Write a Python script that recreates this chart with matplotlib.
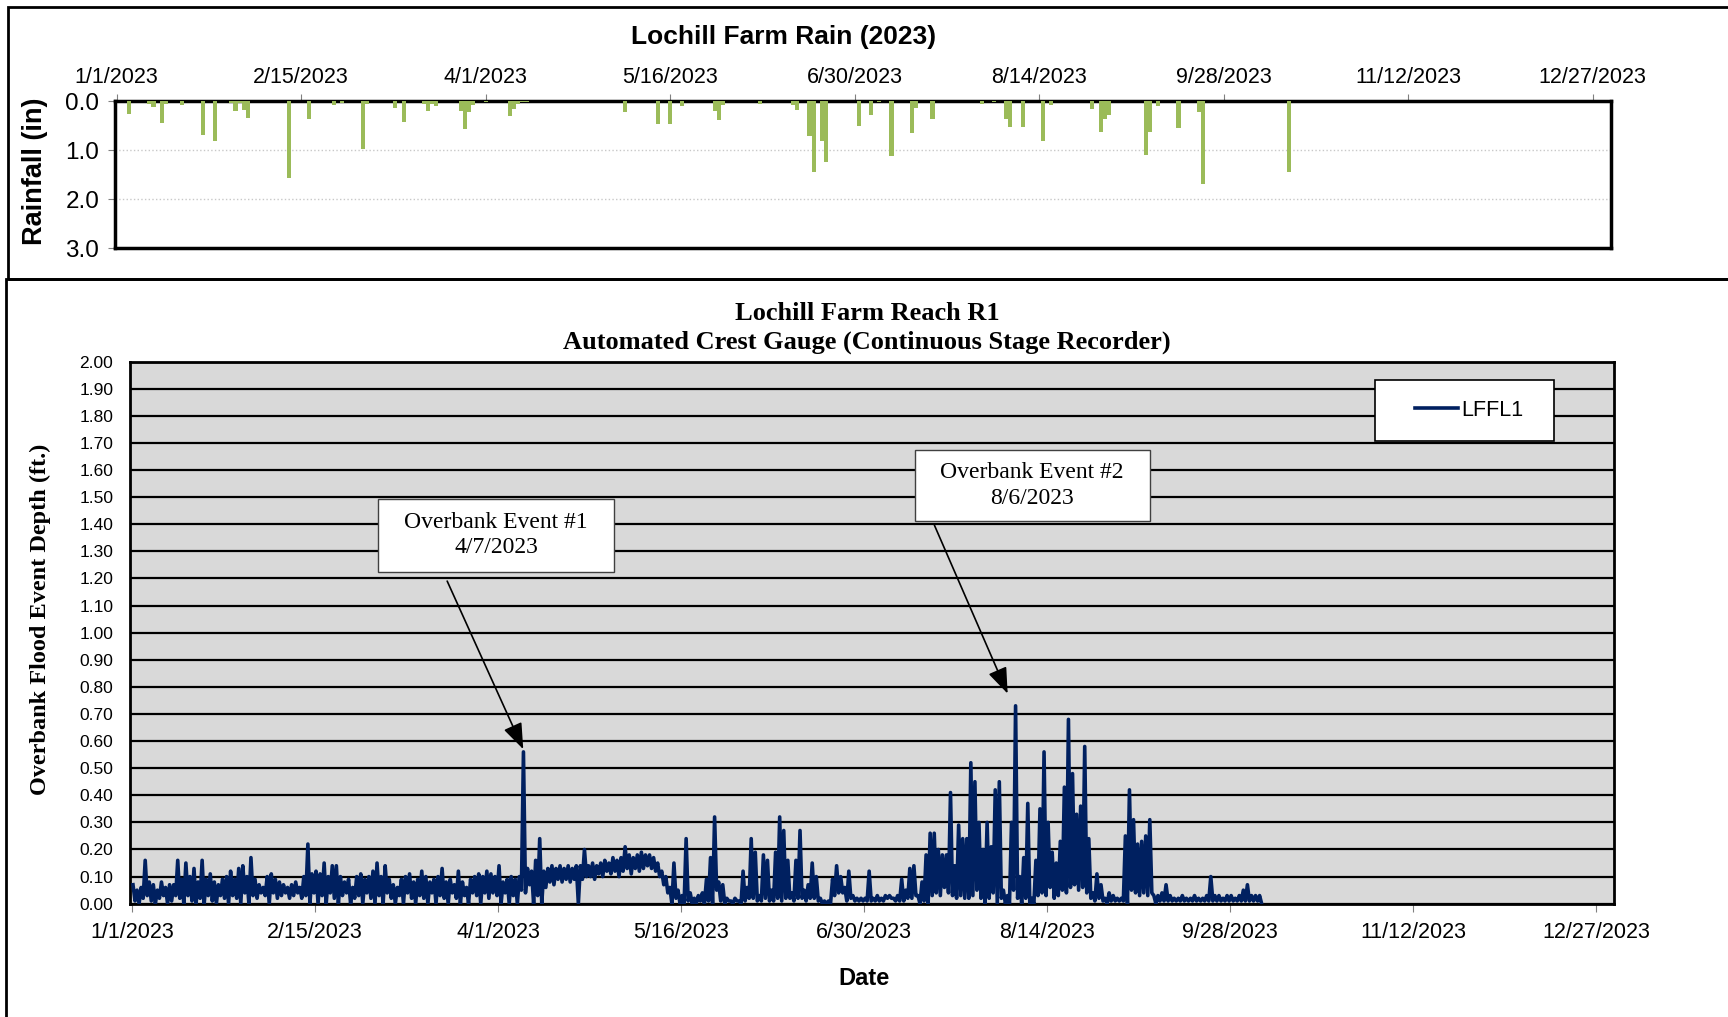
import matplotlib.pyplot as plt
from matplotlib.patches import Rectangle
import numpy as np

plt.rcParams['font.family'] = ['Liberation Sans', 'DejaVu Sans']
SERIF = ['Liberation Serif', 'DejaVu Serif']

# x axis: day of year 2023 (0 = 1/1/2023)
tick_days = [0, 45, 90, 135, 180, 225, 270, 315, 360]
tick_labels = ['1/1/2023', '2/15/2023', '4/1/2023', '5/16/2023', '6/30/2023',
               '8/14/2023', '9/28/2023', '11/12/2023', '12/27/2023']

# daily rainfall (in)
rain_day = [3, 8, 9, 11, 12, 16, 21, 24, 28, 29,
            30, 31, 32, 42, 47, 53, 55, 60, 61, 68,
            70, 75, 76, 77, 78, 84, 85, 86, 87, 90,
            96, 97, 98, 99, 100, 124, 132, 135, 138, 146,
            147, 148, 157, 165, 166, 169, 170, 172, 173, 181,
            184, 186, 189, 194, 195, 199, 211, 214, 217, 218,
            221, 226, 228, 238, 240, 241, 242, 251, 252, 254,
            259, 264, 265, 286]
rain_in = [0.25, 0.05, 0.12, 0.45, 0.05, 0.07, 0.68, 0.82, 0.03, 0.20,
           0.03, 0.18, 0.33, 1.57, 0.37, 0.07, 0.03, 0.98, 0.05, 0.13,
           0.42, 0.05, 0.20, 0.05, 0.10, 0.20, 0.57, 0.22, 0.08, 0.02,
           0.30, 0.15, 0.05, 0.02, 0.02, 0.22, 0.47, 0.47, 0.10, 0.20,
           0.38, 0.07, 0.05, 0.07, 0.18, 0.70, 1.45, 0.82, 1.25, 0.50,
           0.27, 0.02, 1.12, 0.65, 0.13, 0.37, 0.06, 0.02, 0.35, 0.52,
           0.53, 0.82, 0.07, 0.15, 0.63, 0.35, 0.27, 1.10, 0.62, 0.10,
           0.55, 0.22, 1.68, 1.45]

# crest gauge LFFL1, daily high and low stage (ft), days 0..277
stage_hi = [0.07, 0.05, 0.06, 0.16, 0.08, 0.07, 0.05, 0.08, 0.06, 0.07,
            0.07, 0.16, 0.09, 0.15, 0.10, 0.13, 0.08, 0.16, 0.09, 0.11,
            0.08, 0.07, 0.09, 0.10, 0.12, 0.09, 0.13, 0.14, 0.10, 0.17,
            0.09, 0.07, 0.06, 0.10, 0.11, 0.09, 0.08, 0.07, 0.06, 0.07,
            0.08, 0.06, 0.10, 0.22, 0.11, 0.12, 0.11, 0.15, 0.10, 0.14,
            0.14, 0.10, 0.08, 0.09, 0.06, 0.10, 0.11, 0.09, 0.10, 0.12,
            0.15, 0.10, 0.14, 0.09, 0.07, 0.06, 0.09, 0.10, 0.11, 0.08,
            0.09, 0.12, 0.10, 0.08, 0.09, 0.10, 0.13, 0.08, 0.09, 0.07,
            0.12, 0.08, 0.06, 0.09, 0.10, 0.11, 0.10, 0.12, 0.11, 0.10,
            0.14, 0.08, 0.09, 0.10, 0.09, 0.10, 0.56, 0.13, 0.12, 0.16,
            0.24, 0.12, 0.13, 0.14, 0.13, 0.14, 0.13, 0.14, 0.13, 0.14,
            0.14, 0.20, 0.14, 0.15, 0.14, 0.15, 0.16, 0.15, 0.17, 0.16,
            0.17, 0.21, 0.18, 0.17, 0.18, 0.19, 0.18, 0.18, 0.17, 0.15,
            0.12, 0.10, 0.06, 0.15, 0.05, 0.03, 0.24, 0.04, 0.02, 0.03,
            0.04, 0.09, 0.17, 0.32, 0.08, 0.07, 0.02, 0.01, 0.02, 0.01,
            0.12, 0.06, 0.24, 0.19, 0.03, 0.18, 0.16, 0.05, 0.19, 0.32,
            0.27, 0.16, 0.04, 0.16, 0.27, 0.05, 0.07, 0.15, 0.10, 0.02,
            0.01, 0.01, 0.09, 0.14, 0.10, 0.06, 0.12, 0.03, 0.02, 0.02,
            0.02, 0.12, 0.02, 0.03, 0.02, 0.03, 0.03, 0.02, 0.03, 0.09,
            0.05, 0.13, 0.14, 0.03, 0.08, 0.18, 0.26, 0.26, 0.20, 0.18,
            0.18, 0.41, 0.14, 0.29, 0.24, 0.24, 0.52, 0.45, 0.30, 0.20,
            0.30, 0.21, 0.42, 0.45, 0.05, 0.03, 0.30, 0.73, 0.10, 0.17,
            0.37, 0.02, 0.16, 0.35, 0.56, 0.30, 0.19, 0.15, 0.23, 0.43,
            0.68, 0.48, 0.33, 0.36, 0.58, 0.24, 0.04, 0.11, 0.07, 0.02,
            0.04, 0.03, 0.02, 0.02, 0.25, 0.42, 0.31, 0.22, 0.23, 0.25,
            0.31, 0.03, 0.03, 0.04, 0.07, 0.03, 0.02, 0.02, 0.03, 0.02,
            0.02, 0.03, 0.02, 0.02, 0.03, 0.10, 0.03, 0.03, 0.02, 0.03,
            0.03, 0.02, 0.03, 0.05, 0.07, 0.03, 0.03, 0.03]
stage_lo = [0.01, 0.00, 0.02, 0.03, 0.01, 0.00, 0.02, 0.03, 0.00, 0.01,
            0.03, 0.02, 0.00, 0.03, 0.01, 0.00, 0.02, 0.00, 0.03, 0.01,
            0.00, 0.03, 0.02, 0.00, 0.03, 0.02, 0.00, 0.04, 0.00, 0.03,
            0.02, 0.04, 0.03, 0.00, 0.04, 0.02, 0.03, 0.04, 0.02, 0.03,
            0.04, 0.02, 0.03, 0.00, 0.04, 0.00, 0.03, 0.00, 0.04, 0.02,
            0.00, 0.03, 0.04, 0.00, 0.02, 0.03, 0.00, 0.04, 0.02, 0.00,
            0.03, 0.00, 0.04, 0.02, 0.00, 0.03, 0.00, 0.04, 0.02, 0.00,
            0.03, 0.02, 0.00, 0.04, 0.00, 0.03, 0.02, 0.00, 0.04, 0.02,
            0.00, 0.03, 0.00, 0.04, 0.03, 0.00, 0.04, 0.02, 0.04, 0.03,
            0.00, 0.04, 0.00, 0.03, 0.00, 0.05, 0.04, 0.07, 0.00, 0.03,
            0.00, 0.06, 0.08, 0.07, 0.09, 0.08, 0.09, 0.08, 0.09, 0.00,
            0.09, 0.10, 0.10, 0.09, 0.11, 0.10, 0.12, 0.11, 0.12, 0.10,
            0.12, 0.13, 0.11, 0.13, 0.12, 0.13, 0.14, 0.13, 0.12, 0.10,
            0.07, 0.04, 0.00, 0.02, 0.00, 0.00, 0.01, 0.00, 0.00, 0.01,
            0.00, 0.01, 0.00, 0.05, 0.01, 0.00, 0.01, 0.00, 0.01, 0.00,
            0.01, 0.02, 0.02, 0.01, 0.01, 0.02, 0.01, 0.01, 0.02, 0.01,
            0.02, 0.02, 0.01, 0.02, 0.02, 0.01, 0.02, 0.02, 0.01, 0.00,
            0.00, 0.00, 0.03, 0.04, 0.04, 0.01, 0.02, 0.01, 0.01, 0.01,
            0.01, 0.01, 0.01, 0.01, 0.01, 0.02, 0.02, 0.01, 0.01, 0.01,
            0.02, 0.02, 0.03, 0.00, 0.01, 0.00, 0.03, 0.04, 0.03, 0.06,
            0.04, 0.03, 0.02, 0.03, 0.02, 0.02, 0.03, 0.05, 0.02, 0.00,
            0.02, 0.04, 0.00, 0.02, 0.00, 0.00, 0.05, 0.02, 0.00, 0.02,
            0.00, 0.00, 0.03, 0.04, 0.03, 0.06, 0.02, 0.03, 0.05, 0.04,
            0.06, 0.07, 0.05, 0.06, 0.04, 0.02, 0.01, 0.02, 0.01, 0.00,
            0.01, 0.01, 0.01, 0.01, 0.00, 0.05, 0.04, 0.03, 0.04, 0.03,
            0.04, 0.00, 0.01, 0.01, 0.01, 0.01, 0.01, 0.01, 0.01, 0.01,
            0.01, 0.01, 0.01, 0.01, 0.01, 0.01, 0.01, 0.01, 0.01, 0.01,
            0.01, 0.01, 0.01, 0.01, 0.01, 0.01, 0.01, 0.00]

fig = plt.figure(figsize=(17.28, 10.17), dpi=100)

# outer frames around the two charts
fig.patches.append(Rectangle((0.0045, 0.7257), 1.2, 0.267, transform=fig.transFigure,
                             fill=False, ec='black', lw=2))
fig.patches.append(Rectangle((0.0032, -0.1), 1.2, 0.8257, transform=fig.transFigure,
                             fill=False, ec='black', lw=2))

# ---- rain chart ----
ax1 = fig.add_axes([0.0663, 0.7561, 0.8660, 0.1442])
ax1.bar(rain_day, rain_in, width=1.0, color='#9BBB59', zorder=3)
ax1.set_xlim(-0.5, 364.5)
ax1.set_ylim(3, 0)
ax1.set_yticks([0, 1, 2, 3])
ax1.set_yticklabels(['0.0', '1.0', '2.0', '3.0'], fontsize=17.5)
ax1.yaxis.grid(True, color='#C8C8C8', linestyle=':', lw=1)
ax1.xaxis.tick_top()
ax1.set_xticks(tick_days)
ax1.set_xticklabels(tick_labels, fontsize=15.5)
ax1.tick_params(axis='x', length=5, color='#808080', pad=5)
ax1.tick_params(axis='y', length=5, color='#808080', pad=6)
for s in ax1.spines.values():
    s.set_linewidth(2.5)
fig.text(0.4534, 0.9635, 'Lochill Farm Rain (2023)', ha='center', va='center',
         fontsize=19, fontweight='bold')
fig.text(0.0205, 0.832, 'Rainfall (in)', ha='center', va='center', rotation=90,
         fontsize=19.5, fontweight='bold')

# ---- crest gauge chart ----
ax2 = fig.add_axes([0.0752, 0.1114, 0.8591, 0.5331])
ax2.set_facecolor('#D9D9D9')
days = np.arange(len(stage_hi))
xs = np.column_stack([days + 0.25, days + 0.75]).ravel()
ys = np.column_stack([stage_hi, stage_lo]).ravel()
ax2.plot(xs, ys, color='#002060', lw=2.6, label='LFFL1', zorder=3)
ax2.set_xlim(-0.5, 364.5)
ax2.set_ylim(0, 2)
yt = np.arange(0, 2.01, 0.1)
ax2.set_yticks(yt)
ax2.set_yticklabels(['%.2f' % v for v in yt], fontsize=12.5)
ax2.yaxis.grid(True, color='black', lw=1.6)
ax2.set_axisbelow(True)
ax2.set_xticks(tick_days)
ax2.set_xticklabels(tick_labels, fontsize=15.5)
ax2.tick_params(axis='x', length=6, color='#808080', pad=7)
ax2.tick_params(axis='y', length=0, pad=12)
for s in ax2.spines.values():
    s.set_linewidth(2)

# legend, with its frame drawn as a separate box
ax2.add_patch(Rectangle((0.8387, 0.8534), 0.1206, 0.1125, transform=ax2.transAxes,
                        fc='white', ec='black', lw=1.2, zorder=6))
ax2.legend(loc='center', bbox_to_anchor=(0.902, 0.91), frameon=False,
           fontsize=15.5, handlelength=2.0, handletextpad=0.15).set_zorder(7)

# annotation boxes and arrows
arrow = dict(arrowstyle='-|>,head_length=0.8,head_width=0.3', color='black',
             lw=1.2, mutation_scale=20, shrinkA=0, shrinkB=0)
ax2.add_patch(Rectangle((60.6, 1.225), 57.8, 0.269, fc='white', ec='#404040', lw=1, zorder=5))
ax2.text(89.5, 1.36, 'Overbank Event #1\n4/7/2023', ha='center', va='center',
         family=SERIF, fontsize=17, linespacing=1.3, zorder=6)
ax2.annotate('', xy=(96.2, 0.57), xytext=(77.5, 1.19), arrowprops=arrow, zorder=5)
ax2.add_patch(Rectangle((192.5, 1.41), 57.7, 0.265, fc='white', ec='#404040', lw=1, zorder=5))
ax2.text(221.3, 1.543, 'Overbank Event #2\n8/6/2023', ha='center', va='center',
         family=SERIF, fontsize=17, linespacing=1.3, zorder=6)
ax2.annotate('', xy=(215.3, 0.775), xytext=(197.3, 1.396), arrowprops=arrow, zorder=5)

fig.text(0.5017, 0.6775, 'Lochill Farm Reach R1\nAutomated Crest Gauge (Continuous Stage Recorder)',
         ha='center', va='center', family=SERIF, fontsize=19, fontweight='bold',
         linespacing=1.35)
fig.text(0.0235, 0.391, 'Overbank Flood Event Depth (ft.)', ha='center', va='center',
         rotation=90, family=SERIF, fontsize=17.5, fontweight='bold')
fig.text(0.5, 0.0375, 'Date', ha='center', va='center', fontsize=17, fontweight='bold')

fig.savefig('out.png', dpi=100)
